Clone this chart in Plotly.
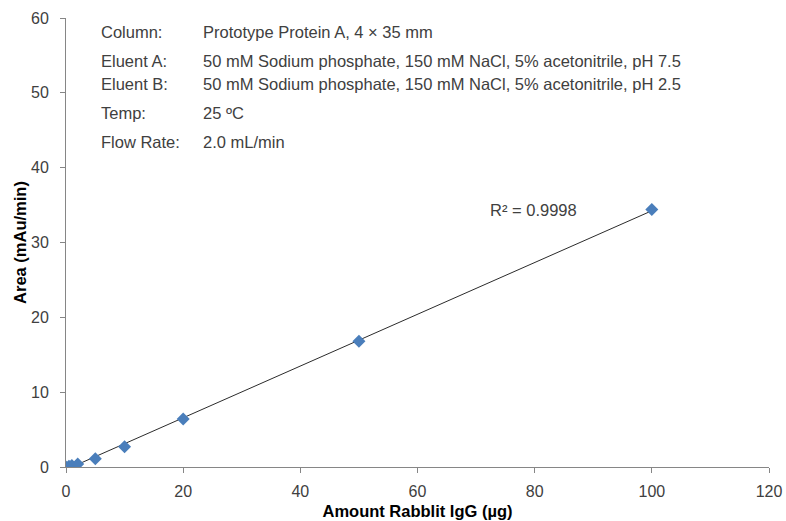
import numpy as np
import plotly.graph_objects as go

amount = [0, 0.5, 1, 2, 5, 10, 20, 50, 100]
area = [0.0, 0.1, 0.2, 0.4, 1.1, 2.7, 6.4, 16.8, 34.4]

info_labels = ["Column:", "Eluent A:", "Eluent B:", "Temp:", "Flow Rate:"]
info_values = ["Prototype Protein A, 4 × 35 mm",
               "50 mM Sodium phosphate, 150 mM NaCl, 5% acetonitrile, pH 7.5",
               "50 mM Sodium phosphate, 150 mM NaCl, 5% acetonitrile, pH 2.5",
               "25 ºC",
               "2.0 mL/min"]
info_y = [0.969, 0.905, 0.853, 0.789, 0.724]

slope, intercept = np.polyfit(amount, area, 1)
xfit = np.array([min(amount), max(amount)])
yfit = slope * xfit + intercept

font = "Liberation Sans, Arial, sans-serif"
txt = "#404040"
fs = 16

fig = go.Figure()
fig.add_trace(go.Scatter(x=xfit, y=yfit, mode="lines",
                         line=dict(color="#2b2b2b", width=1), showlegend=False,
                         hoverinfo="skip"))
fig.add_trace(go.Scatter(x=amount, y=area, mode="markers",
                         marker=dict(symbol="diamond", size=10, color="#4a7ebb",
                                     line=dict(width=0)),
                         showlegend=False))

anns = []
for lab, val, yy in zip(info_labels, info_values, info_y):
    anns.append(dict(x=0.047, y=yy, xref="paper", yref="paper", text=lab,
                     showarrow=False, xanchor="left", yanchor="middle",
                     font=dict(family=font, size=16.5, color=txt)))
    anns.append(dict(x=0.192, y=yy, xref="paper", yref="paper", text=val,
                     showarrow=False, xanchor="left", yanchor="middle",
                     font=dict(family=font, size=16.5, color=txt)))
anns.append(dict(x=0.600, y=0.572, xref="paper", yref="paper",
                 text="R² = 0.9998", showarrow=False, xanchor="left",
                 yanchor="middle", font=dict(family=font, size=16.5, color=txt)))

fig.update_layout(
    width=786, height=521,
    margin=dict(l=66, r=17, t=18, b=54, autoexpand=False),
    plot_bgcolor="white", paper_bgcolor="white",
    font=dict(family=font, size=fs, color=txt),
    annotations=anns,
    xaxis=dict(range=[0, 120], dtick=20, showgrid=False, zeroline=False,
               showline=True, linecolor="#868686", linewidth=1,
               ticks="outside", ticklen=5, tickcolor="#868686",
               ticklabelstandoff=5, ticklabeloverflow="allow",
               tickfont=dict(family=font, size=fs, color=txt),
               title=dict(text="<b>Amount Rabblit IgG (µg)</b>",
                          font=dict(family=font, size=16.5, color="#000000"),
                          standoff=6)),
    yaxis=dict(range=[0, 60], dtick=10, showgrid=False, zeroline=False,
               showline=True, linecolor="#868686", linewidth=1,
               ticks="outside", ticklen=5, tickcolor="#868686",
               ticklabelstandoff=8,
               tickfont=dict(family=font, size=fs, color=txt),
               title=dict(text="<b>Area (mAu/min)</b>",
                          font=dict(family=font, size=16.5, color="#000000"),
                          standoff=0)),
)

# remove the browser's default 8px body margin so the figure fills the window
fig.write_html("out.html", config={"displayModeBar": False},
               post_script="document.body.style.margin='0';")
